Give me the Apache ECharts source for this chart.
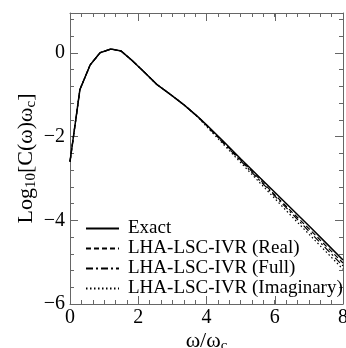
<!DOCTYPE html>
<html>
<head>
<meta charset="utf-8">
<script src="https://cdn.jsdelivr.net/npm/echarts@6/dist/echarts.min.js"></script>
<style>
  html, body { margin: 0; padding: 0; background: #fff; }
  #chart { width: 346px; height: 348px; }
</style>
</head>
<body>
<div id="chart"></div>
<script>
// omega / omega_c sample points
const omega = [0, 0.29, 0.59, 0.88, 1.2, 1.5, 1.8, 2.15, 2.55, 2.95, 3.35, 3.75, 4, 4.5, 5, 5.5, 6, 6.5, 7, 7.5, 8];
const exact = [-2.6, -0.88, -0.29, 0.0, 0.09, 0.04, -0.17, -0.44, -0.76, -1.0, -1.25, -1.53, -1.72, -2.12, -2.53, -2.93, -3.33, -3.73, -4.13, -4.54, -4.95];
const real = [-2.6, -0.88, -0.29, 0.0, 0.09, 0.04, -0.17, -0.44, -0.76, -1.0, -1.25, -1.53, -1.73, -2.14, -2.56, -2.97, -3.39, -3.8, -4.2, -4.61, -5.02];
const full = [-2.6, -0.88, -0.29, 0.0, 0.09, 0.04, -0.17, -0.44, -0.76, -1.0, -1.25, -1.53, -1.74, -2.16, -2.58, -3.0, -3.42, -3.84, -4.26, -4.67, -5.09];
const imaginary = [-2.6, -0.88, -0.29, 0.0, 0.09, 0.04, -0.17, -0.44, -0.76, -1.0, -1.25, -1.54, -1.76, -2.19, -2.62, -3.05, -3.48, -3.91, -4.33, -4.75, -5.17];
const seriesNames = ['Exact', 'LHA-LSC-IVR (Real)', 'LHA-LSC-IVR (Full)', 'LHA-LSC-IVR (Imaginary)'];

const serif = 'Liberation Serif, Times New Roman, serif';
const axisColor = '#666';
const xMin = 0, xMax = 8, yMin = -6, yMax = 0.95;

function pairs(ys) {
    return omega.map(function (x, i) { return [x, ys[i]]; });
}
function minus(v) {
    return String(v).replace('-', '\u2212');
}

const chart = echarts.init(document.getElementById('chart'));

// one axis = one set of inward ticks; major and minor are separate axes
function tickAxis(extra, interval, len, showLine) {
    return Object.assign({
        type: 'value',
        interval: interval,
        axisLine: { show: showLine, onZero: false, lineStyle: { color: axisColor, width: 1 } },
        axisTick: { show: true, inside: true, length: len, lineStyle: { color: axisColor } },
        axisLabel: { show: false },
        splitLine: { show: false }
    }, extra);
}

const subRich = {
    a: { fontFamily: serif, fontSize: 22, color: '#000', lineHeight: 24, verticalAlign: 'top' },
    s: { fontFamily: serif, fontSize: 15, color: '#000', lineHeight: 15, verticalAlign: 'bottom', padding: [11, 0, 0, 0] }
};

const styles = [
    { type: 'solid', width: 1.5 },
    { type: [5, 3], width: 1.2 },
    { type: [7, 3, 2, 3], width: 1.2 },
    { type: [1.5, 2.5], width: 1.2 }
];
const values = [exact, real, full, imaginary];

const xMain = tickAxis({
    min: xMin, max: xMax, position: 'bottom',
    axisLabel: { show: true, fontFamily: serif, fontSize: 20, color: '#000', margin: 4, formatter: minus },
    name: '{a|\u03c9/\u03c9}{s|c}',
    nameLocation: 'middle',
    nameGap: 26,
    nameMoveOverlap: false,
    nameTextStyle: { rich: subRich }
}, 2, 8, true);

const yMain = tickAxis({
    min: yMin, max: yMax, position: 'left',
    axisLabel: {
        show: true, fontFamily: serif, fontSize: 20, color: '#000', margin: 5,
        formatter: function (v) { return v > 0 ? '' : minus(v); }
    },
    name: '{a|Log}{s|10}{a|[C(\u03c9)\u03c9}{s|c}{a|]}',
    nameLocation: 'middle',
    nameGap: 31,
    nameMoveOverlap: false,
    nameTextStyle: { rich: subRich }
}, 2, 8, true);

const option = {
    animation: false,
    grid: { left: 70, right: 3, top: 13, bottom: 44, outerBoundsMode: 'none' },
    legend: {
        orient: 'vertical',
        left: 80,
        top: 214,
        itemWidth: 33,
        itemHeight: 14,
        itemGap: 1,
        data: seriesNames,
        itemStyle: { opacity: 0 },
        textStyle: { fontFamily: serif, fontSize: 19, color: '#000', padding: [0, 0, 0, 4] }
    },
    xAxis: [
        xMain,
        tickAxis({ min: xMin, max: xMax, position: 'top' }, 2, 8, true),
        tickAxis({ min: xMin, max: xMax, position: 'bottom' }, 1 / 3, 4, false),
        tickAxis({ min: xMin, max: xMax, position: 'top' }, 1 / 3, 4, false)
    ],
    yAxis: [
        yMain,
        tickAxis({ min: yMin, max: yMax, position: 'right' }, 2, 8, true),
        tickAxis({ min: yMin, max: yMax, position: 'left' }, 0.4, 4, false),
        tickAxis({ min: yMin, max: yMax, position: 'right' }, 0.4, 4, false)
    ],
    series: seriesNames.map(function (name, i) {
        return {
            name: name,
            type: 'line',
            xAxisIndex: 0,
            yAxisIndex: 0,
            symbol: 'none',
            showSymbol: false,
            data: pairs(values[i]),
            lineStyle: { color: '#000', type: styles[i].type, width: styles[i].width },
            itemStyle: { color: '#000' },
            z: 4 - i
        };
    })
};

chart.setOption(option);
</script>
</body>
</html>
